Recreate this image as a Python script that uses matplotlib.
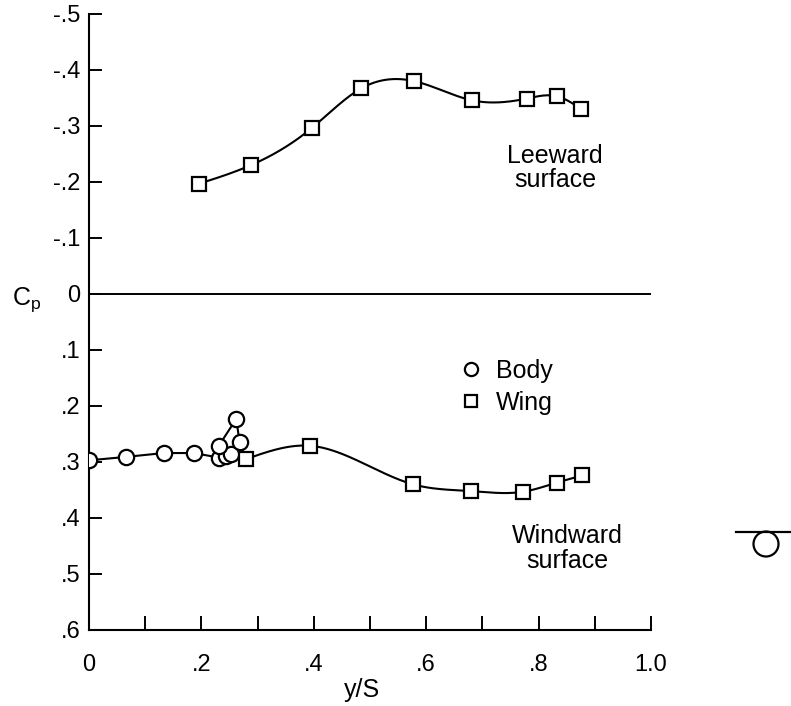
import matplotlib
matplotlib.use('Agg')
import matplotlib.pyplot as plt
import numpy as np
from matplotlib.lines import Line2D
from matplotlib.patches import Circle

plt.rcParams['font.family'] = ['Liberation Sans', 'DejaVu Sans']
plt.rcParams['mathtext.fontset'] = 'custom'
plt.rcParams['mathtext.rm'] = 'Liberation Sans'
plt.rcParams['mathtext.it'] = 'Liberation Sans'

# body points (windward), in drawing order
body_x = [0.0, 0.065, 0.133, 0.186, 0.231, 0.243, 0.253, 0.231, 0.262, 0.268]
body_cp = [0.297, 0.291, 0.284, 0.284, 0.292, 0.289, 0.286, 0.271, 0.223, 0.265]

# wing, windward surface
wind_x = [0.279, 0.393, 0.577, 0.680, 0.773, 0.832, 0.878]
wind_cp = [0.295, 0.271, 0.340, 0.352, 0.353, 0.337, 0.324]

# wing, leeward surface
lee_x = [0.196, 0.288, 0.396, 0.484, 0.579, 0.681, 0.779, 0.833, 0.875]
lee_cp = [-0.197, -0.230, -0.296, -0.367, -0.380, -0.346, -0.349, -0.353, -0.331]

x_ticks = [0.0, 0.1, 0.2, 0.3, 0.4, 0.5, 0.6, 0.7, 0.8, 0.9, 1.0]
x_labels = ['0', '', '.2', '', '.4', '', '.6', '', '.8', '', '1.0']
y_ticks = [-0.5, -0.4, -0.3, -0.2, -0.1, 0.0, 0.1, 0.2, 0.3, 0.4, 0.5, 0.6]
y_labels = ['-.5', '-.4', '-.3', '-.2', '-.1', '0', '.1', '.2', '.3', '.4', '.5', '.6']


def smooth(x, y, n=300):
    # natural cubic spline through the points, just for the faired line
    x = np.asarray(x, float)
    y = np.asarray(y, float)
    k = len(x)
    h = np.diff(x)
    A = np.zeros((k, k))
    b = np.zeros(k)
    A[0, 0] = A[-1, -1] = 1
    for i in range(1, k - 1):
        A[i, i - 1] = h[i - 1]
        A[i, i] = 2 * (h[i - 1] + h[i])
        A[i, i + 1] = h[i]
        b[i] = 6 * ((y[i + 1] - y[i]) / h[i] - (y[i] - y[i - 1]) / h[i - 1])
    M = np.linalg.solve(A, b)
    xs = np.linspace(x[0], x[-1], n)
    j = np.clip(np.searchsorted(x, xs) - 1, 0, k - 2)
    t0 = xs - x[j]
    t1 = x[j + 1] - xs
    hj = h[j]
    ys = (M[j] * t1**3 + M[j + 1] * t0**3) / (6 * hj) \
        + (y[j] / hj - M[j] * hj / 6) * t1 + (y[j + 1] / hj - M[j + 1] * hj / 6) * t0
    return xs, ys


fig = plt.figure(figsize=(7.91, 7.06), dpi=100)
ax = fig.add_axes([89 / 791, 1 - 630 / 706, 562 / 791, 616 / 706])
ax.set_xlim(0, 1.0)
ax.set_ylim(0.6, -0.5)
for s in ['top', 'right']:
    ax.spines[s].set_visible(False)
for s in ['left', 'bottom']:
    ax.spines[s].set_linewidth(1.5)

ax.axhline(0, color='black', lw=1.4)

mk = dict(mfc='white', mec='black', mew=1.6, ls='none', zorder=3)

# leeward
xs, ys = smooth(lee_x, lee_cp)
ax.plot(xs, ys, color='black', lw=1.5)
ax.plot(lee_x, lee_cp, marker='s', ms=10.5, **mk)

# windward
xs, ys = smooth(wind_x, wind_cp)
ax.plot(xs, ys, color='black', lw=1.5)
ax.plot(body_x, body_cp, color='black', lw=1.5)
ax.plot([body_x[-1], wind_x[0]], [body_cp[-1], wind_cp[0]], color='black', lw=1.5)
ax.plot(body_x, body_cp, marker='o', ms=11, **mk)
ax.plot(wind_x, wind_cp, marker='s', ms=10.5, **mk)

ax.set_xticks(x_ticks)
ax.set_xticklabels(x_labels)
ax.set_yticks(y_ticks)
ax.set_yticklabels(y_labels)
ax.tick_params(axis='both', direction='in', width=1.4, labelsize=17)
ax.tick_params(axis='x', length=10, pad=17.5)
ax.tick_params(axis='y', length=9.5, pad=6)

handles = [Line2D([], [], marker='o', ms=9.5, **mk),
           Line2D([], [], marker='s', ms=8.5, **mk)]
ax.legend(handles, ['Body', 'Wing'], loc='center left', bbox_to_anchor=(0.658, 0.3945),
          frameon=False, borderpad=0, borderaxespad=0, handlelength=1,
          handletextpad=0.5, labelspacing=0.3, fontsize=18)

ax.text(0.829, 0.750, 'Leeward\nsurface', transform=ax.transAxes, ha='center',
        va='center', fontsize=18, linespacing=1.05)
ax.text(0.852, 0.133, 'Windward\nsurface', transform=ax.transAxes, ha='center',
        va='center', fontsize=18, linespacing=1.05)

fig.text(27 / 791, 1 - 300 / 706, r'C$_\mathrm{p}$', ha='center', va='center', fontsize=18)
fig.text(362 / 791, 1 - 690 / 706, 'y/S', ha='center', va='center', fontsize=18)

# small symbol at the right edge
fig.add_artist(Line2D([736 / 791, 790 / 791], [1 - 532 / 706] * 2,
                      transform=fig.transFigure, color='black', lw=1.6))
fig.add_artist(Circle((7.66, 7.06 - 5.44), 0.125, transform=fig.dpi_scale_trans,
                      fill=False, ec='black', lw=1.6))

fig.savefig('out.png', dpi=100)
